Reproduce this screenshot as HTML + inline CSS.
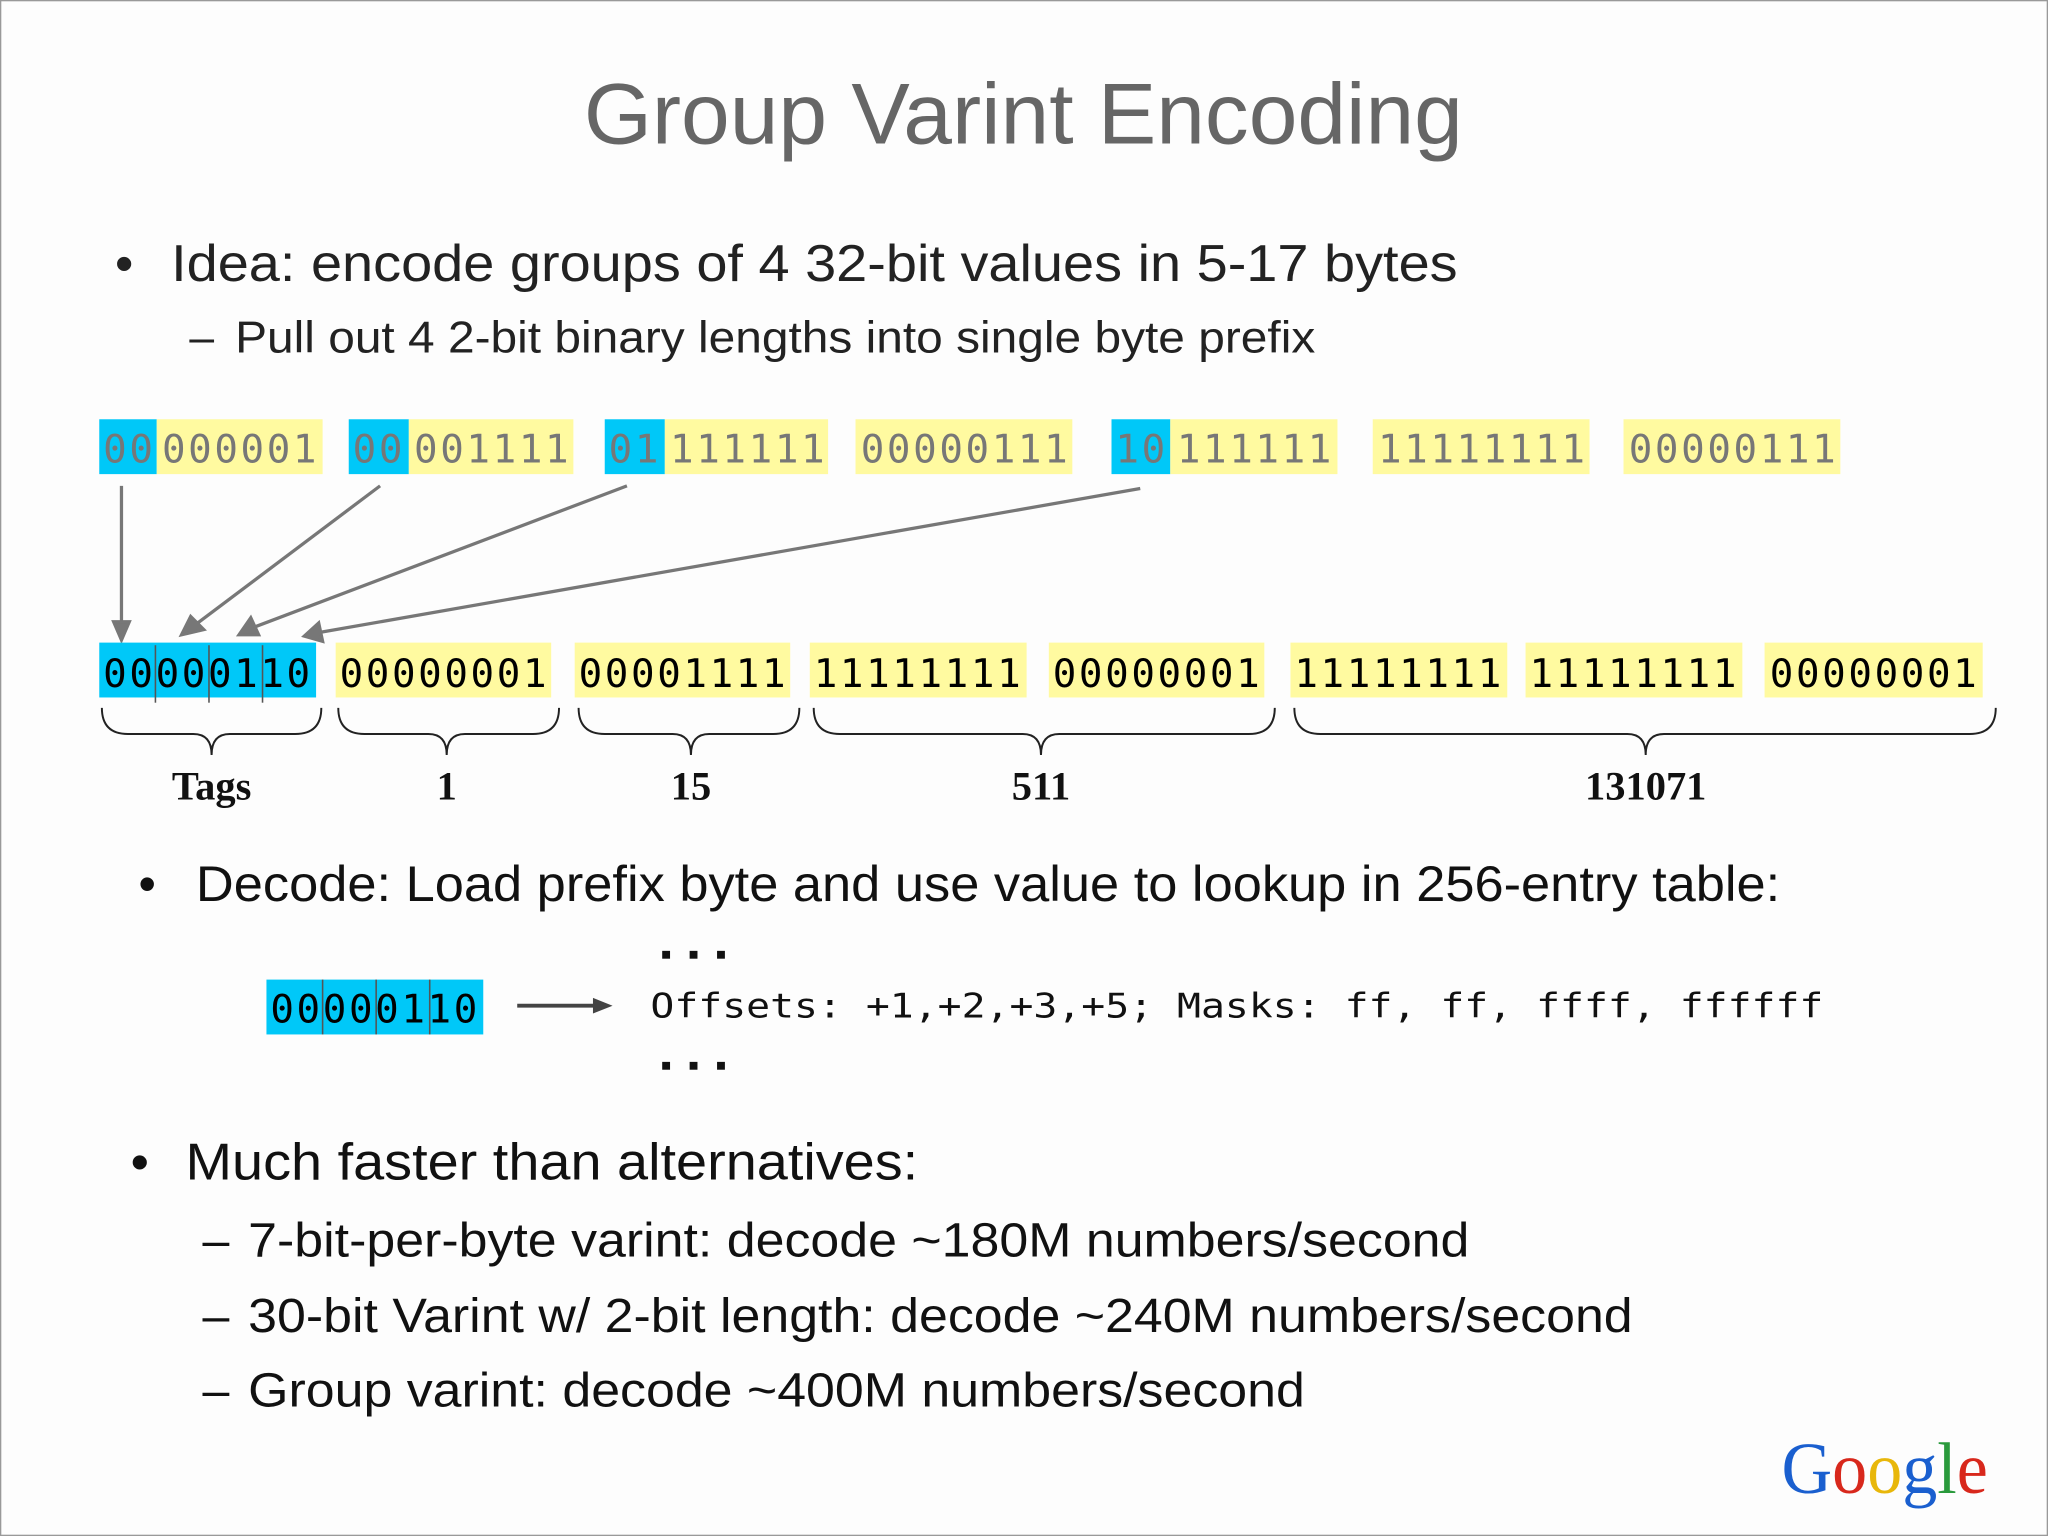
<!DOCTYPE html>
<html><head><meta charset="utf-8"><style>
html,body{margin:0;padding:0;background:#fdfdfd}
svg{display:block}
.mono{font-family:"DejaVu Sans Mono","Liberation Mono",monospace}
.sans{font-family:"Liberation Sans",sans-serif}
.serif{font-family:"Liberation Serif",serif}
</style></head><body>
<svg width="2048" height="1536" viewBox="0 0 1568 1176" xmlns="http://www.w3.org/2000/svg">
<rect x="0.5" y="0.5" width="1567" height="1175" fill="#fdfdfd" stroke="#999"/>
<text class="sans" x="447" y="110" font-size="66" fill="#666" textLength="673" lengthAdjust="spacingAndGlyphs">Group Varint Encoding</text>
<text class="sans" x="88" y="215" font-size="40" fill="#222">•<tspan x="131" textLength="985" lengthAdjust="spacingAndGlyphs">Idea: encode groups of 4 32-bit values in 5-17 bytes</tspan></text>
<text class="sans" x="145" y="270" font-size="34" fill="#222">–<tspan x="180" textLength="827" lengthAdjust="spacingAndGlyphs">Pull out 4 2-bit binary lengths into single byte prefix</tspan></text>

<g class="mono" font-size="30" letter-spacing="2">
<rect x="76" y="321" width="44" height="42" fill="#00c8f8"/><rect x="120" y="321" width="127" height="42" fill="#fffaa0"/>
<rect x="267" y="321" width="46" height="42" fill="#00c8f8"/><rect x="313" y="321" width="126" height="42" fill="#fffaa0"/>
<rect x="463" y="321" width="46" height="42" fill="#00c8f8"/><rect x="509" y="321" width="125" height="42" fill="#fffaa0"/>
<rect x="655" y="321" width="166" height="42" fill="#fffaa0"/>
<rect x="851" y="321" width="45" height="42" fill="#00c8f8"/><rect x="896" y="321" width="128" height="42" fill="#fffaa0"/>
<rect x="1051" y="321" width="166" height="42" fill="#fffaa0"/>
<rect x="1243" y="321" width="166" height="42" fill="#fffaa0"/>
<g fill="#777">
<text x="79" y="354">00</text><text x="124" y="354">000001</text>
<text x="270" y="354">00</text><text x="317" y="354">001111</text>
<text x="466" y="354">01</text><text x="513" y="354">111111</text>
<text x="659" y="354">00000111</text>
<text x="854" y="354">10</text><text x="901" y="354">111111</text>
<text x="1055" y="354">11111111</text>
<text x="1247" y="354">00000111</text>
</g></g>

<g stroke="#777" stroke-width="2.5" fill="#777">
<line x1="93" y1="372" x2="93" y2="478"/><polygon points="87,476 99,476 93,490"/>
<line x1="291" y1="372" x2="150" y2="478"/><polygon points="139,486 146,472 156,482"/>
<line x1="480" y1="372" x2="195" y2="480"/><polygon points="183,486 192,473 198,486"/>
<line x1="873" y1="374" x2="246" y2="484"/><polygon points="233,487 244,477 247,491"/>
</g>

<g class="mono" font-size="30" letter-spacing="2">
<rect x="76" y="492" width="166" height="42" fill="#00c8f8"/>
<rect x="257" y="492" width="165" height="42" fill="#fffaa0"/>
<rect x="440" y="492" width="165" height="42" fill="#fffaa0"/>
<rect x="620" y="492" width="166" height="42" fill="#fffaa0"/>
<rect x="803" y="492" width="165" height="42" fill="#fffaa0"/>
<rect x="988" y="492" width="166" height="42" fill="#fffaa0"/>
<rect x="1168" y="492" width="166" height="42" fill="#fffaa0"/>
<rect x="1351" y="492" width="167" height="42" fill="#fffaa0"/>
<g stroke="#555" stroke-width="1.2"><line x1="119" y1="494" x2="119" y2="538"/><line x1="160" y1="494" x2="160" y2="538"/><line x1="201" y1="494" x2="201" y2="538"/></g>
<g fill="#000">
<text x="79" y="526">00000110</text>
<text x="260" y="526">00000001</text>
<text x="443" y="526">00001111</text>
<text x="623" y="526">11111111</text>
<text x="806" y="526">00000001</text>
<text x="991" y="526">11111111</text>
<text x="1171" y="526">11111111</text>
<text x="1355" y="526">00000001</text>
</g></g>

<g fill="none" stroke="#222" stroke-width="1.5">
<path d="M78,542 Q78,562 98,562 L148,562 Q162,562 162,578 Q162,562 176,562 L226,562 Q246,562 246,542"/>
<path d="M259,542 Q259,562 279,562 L328,562 Q342,562 342,578 Q342,562 356,562 L408,562 Q428,562 428,542"/>
<path d="M443,542 Q443,562 463,562 L515,562 Q529,562 529,578 Q529,562 543,562 L592,562 Q612,562 612,542"/>
<path d="M623,542 Q623,562 643,562 L783,562 Q797,562 797,578 Q797,562 811,562 L956,562 Q976,562 976,542"/>
<path d="M991,542 Q991,562 1011,562 L1246,562 Q1260,562 1260,578 Q1260,562 1274,562 L1508,562 Q1528,562 1528,542"/>
</g>
<g class="serif" font-size="31" font-weight="bold" fill="#111" text-anchor="middle">
<text x="162" y="612">Tags</text><text x="342" y="612">1</text><text x="529" y="612">15</text><text x="797" y="612">511</text><text x="1260" y="612">131071</text>
</g>

<text class="sans" x="106" y="690" font-size="38" fill="#111">•<tspan x="150" textLength="1213" lengthAdjust="spacingAndGlyphs">Decode: Load prefix byte and use value to lookup in 256-entry table:</tspan></text>

<g>
<rect x="204" y="750" width="166" height="42" fill="#00c8f8"/>
<g stroke="#555" stroke-width="1.2"><line x1="247" y1="750" x2="247" y2="792"/><line x1="288" y1="750" x2="288" y2="792"/><line x1="329" y1="750" x2="329" y2="792"/></g>
<text class="mono" x="207" y="783" font-size="30" letter-spacing="2" fill="#000">00000110</text>
<line x1="396" y1="770" x2="456" y2="770" stroke="#444" stroke-width="3"/><polygon points="454,764 469,770 454,776" fill="#444"/>
<text class="mono" x="498" y="779" font-size="26" fill="#111" textLength="898" lengthAdjust="spacingAndGlyphs">Offsets: +1,+2,+3,+5; Masks: ff, ff, ffff, ffffff</text>
<g fill="#111"><rect x="507" y="728" width="6" height="6"/><rect x="528" y="728" width="6" height="6"/><rect x="549" y="728" width="6" height="6"/>
<rect x="507" y="813" width="6" height="6"/><rect x="528" y="813" width="6" height="6"/><rect x="549" y="813" width="6" height="6"/></g>
</g>

<g class="sans" fill="#111">
<text x="100" y="903" font-size="40">•<tspan x="142" textLength="561" lengthAdjust="spacingAndGlyphs">Much faster than alternatives:</tspan></text>
<text x="155" y="962" font-size="37">–<tspan x="190" textLength="935" lengthAdjust="spacingAndGlyphs">7-bit-per-byte varint: decode ~180M numbers/second</tspan></text>
<text x="155" y="1020" font-size="37">–<tspan x="190" textLength="1060" lengthAdjust="spacingAndGlyphs">30-bit Varint w/ 2-bit length: decode ~240M numbers/second</tspan></text>
<text x="155" y="1077" font-size="37">–<tspan x="190" textLength="809" lengthAdjust="spacingAndGlyphs">Group varint: decode ~400M numbers/second</tspan></text>
</g>

<text class="serif" x="1364" y="1143" font-size="56" textLength="158" lengthAdjust="spacingAndGlyphs"><tspan fill="#1a5fcf">G</tspan><tspan fill="#d8281c">o</tspan><tspan fill="#e8b70a">o</tspan><tspan fill="#1a5fcf">g</tspan><tspan fill="#2a9a3c">l</tspan><tspan fill="#d8281c">e</tspan></text>
</svg>
</body></html>
